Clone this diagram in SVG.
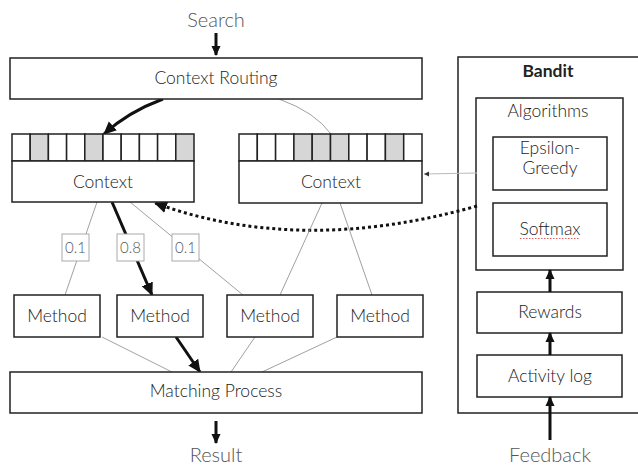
<svg xmlns="http://www.w3.org/2000/svg" width="638" height="466" viewBox="0 0 638 466">
<style>
  .box{fill:#fff;stroke:#222;stroke-width:1.5}
  .cell{fill:#fff;stroke:#222;stroke-width:1.5}
  .sh{fill:#d6d6d6;stroke:#222;stroke-width:1.5}
  .lbl{fill:#fff;stroke:#aaa;stroke-width:1}
  text{font-family:Lato,"Open Sans","DejaVu Sans",sans-serif;fill:#222;text-anchor:middle;font-weight:300}
  .t{font-size:17.5px}
  .io{font-size:20px;fill:#555}
  .p{font-size:15px;fill:#555}
  .thin{fill:none;stroke:#888;stroke-width:0.8}
  .thick{fill:none;stroke:#111;stroke-width:3}
</style>
<defs>
  <marker id="ah" markerUnits="userSpaceOnUse" markerWidth="14" markerHeight="14" refX="12" refY="7" orient="auto">
    <path d="M0,1 L13,7 L0,13 Z" fill="#111"/>
  </marker>
  <marker id="ahs" markerUnits="userSpaceOnUse" markerWidth="10" markerHeight="10" refX="9" refY="5" orient="auto">
    <path d="M0,0.5 L10,5 L0,9.5 Z" fill="#111"/>
  </marker>
  <marker id="ahg" markerUnits="userSpaceOnUse" markerWidth="6" markerHeight="6" refX="5" refY="3" orient="auto">
    <path d="M0,0.5 L5,3 L0,5.5 Z" fill="#333"/>
  </marker>
</defs>

<g id="bandit">
  <rect class="box" x="458" y="57" width="190" height="356"/>
  <text x="548" y="77" class="t" style="font-weight:bold">Bandit</text>
</g>
<g id="algorithms">
  <rect class="box" x="476" y="98" width="147" height="172"/>
  <text x="548" y="117" class="t">Algorithms</text>
</g>
<g id="epsilon-greedy">
  <rect class="box" x="493" y="137" width="114" height="53"/>
  <text x="550" y="154" class="t">Epsilon-</text>
  <text x="550" y="174" class="t">Greedy</text>
</g>
<g id="softmax">
  <rect class="box" x="493" y="203" width="114" height="53"/>
  <text x="550" y="235" class="t">Softmax</text>
  <path d="M520,238.5 L580,238.5" stroke="#e06060" stroke-width="1" stroke-dasharray="1.5,1.5" fill="none"/>
</g>
<g id="rewards">
  <rect class="box" x="477" y="292" width="145" height="41"/>
  <text x="550" y="318" class="t">Rewards</text>
</g>
<g id="activity-log">
  <rect class="box" x="477" y="355" width="145" height="42"/>
  <text x="550" y="382" class="t">Activity log</text>
</g>

<g id="search"><text x="216" y="27" class="io">Search</text></g>
<g id="result"><text x="216" y="462" class="io">Result</text></g>
<g id="feedback"><text x="550" y="462" class="io">Feedback</text></g>

<g id="connectors">
  <line class="thick" x1="216" y1="33" x2="216" y2="55" stroke-width="2.5" marker-end="url(#ahs)"/>
  <line class="thick" x1="216" y1="421" x2="216" y2="443" stroke-width="2.5" marker-end="url(#ahs)"/>
  <line class="thick" x1="550" y1="440" x2="550" y2="397" stroke-width="2.5" marker-end="url(#ahs)"/>
  <line class="thick" x1="550" y1="355" x2="550" y2="333" stroke-width="2.5" marker-end="url(#ahs)"/>
  <line class="thick" x1="550" y1="292" x2="550" y2="270" stroke-width="2.5" marker-end="url(#ahs)"/>
  <path class="thick" d="M163,99 Q128,112 104,134" marker-end="url(#ah)"/>
  <path class="thin" d="M279,99 Q315,112 331,134"/>
  <line x1="477" y1="173" x2="424" y2="174" stroke="#bbb" stroke-width="1" marker-end="url(#ahg)"/>
  <path d="M477,206 Q300,256 155,203" fill="none" stroke="#111" stroke-width="3" stroke-dasharray="3,3" marker-end="url(#ah)"/>
  <line class="thin" x1="97" y1="202" x2="65" y2="295"/>
  <line class="thick" x1="112" y1="202" x2="152" y2="295" marker-end="url(#ah)"/>
  <line class="thin" x1="130" y1="202" x2="243" y2="295"/>
  <line class="thin" x1="322" y1="203" x2="280" y2="295"/>
  <line class="thin" x1="340" y1="203" x2="372" y2="295"/>
  <line class="thin" x1="102" y1="337" x2="172" y2="372"/>
  <line class="thick" x1="176" y1="337" x2="200" y2="372" marker-end="url(#ah)"/>
  <line class="thin" x1="255" y1="337" x2="231" y2="372"/>
  <line class="thin" x1="337" y1="337" x2="262" y2="372"/>
</g>

<g id="context-routing">
  <rect class="box" x="10" y="58" width="412" height="41"/>
  <text x="216" y="84" class="t">Context Routing</text>
</g>

<g id="context-left">
  <rect class="cell" x="12" y="134" width="18.2" height="27"/>
  <rect class="sh" x="30.2" y="134" width="18.2" height="27"/>
  <rect class="cell" x="48.4" y="134" width="18.2" height="27"/>
  <rect class="cell" x="66.6" y="134" width="18.2" height="27"/>
  <rect class="sh" x="84.8" y="134" width="18.2" height="27"/>
  <rect class="cell" x="103" y="134" width="18.2" height="27"/>
  <rect class="cell" x="121.2" y="134" width="18.2" height="27"/>
  <rect class="cell" x="139.4" y="134" width="18.2" height="27"/>
  <rect class="cell" x="157.6" y="134" width="18.2" height="27"/>
  <rect class="sh" x="175.8" y="134" width="18.2" height="27"/>
  <rect class="box" x="12" y="161" width="182" height="41"/>
  <text x="103" y="188" class="t">Context</text>
</g>

<g id="context-right">
  <rect class="cell" x="239" y="134" width="18.3" height="27"/>
  <rect class="cell" x="257.3" y="134" width="18.3" height="27"/>
  <rect class="cell" x="275.6" y="134" width="18.3" height="27"/>
  <rect class="sh" x="293.9" y="134" width="18.3" height="27"/>
  <rect class="sh" x="312.2" y="134" width="18.3" height="27"/>
  <rect class="sh" x="330.5" y="134" width="18.3" height="27"/>
  <rect class="cell" x="348.8" y="134" width="18.3" height="27"/>
  <rect class="cell" x="367.1" y="134" width="18.3" height="27"/>
  <rect class="sh" x="385.4" y="134" width="18.3" height="27"/>
  <rect class="cell" x="403.7" y="134" width="18.3" height="27"/>
  <rect class="box" x="239" y="161" width="183" height="42"/>
  <text x="331" y="188" class="t">Context</text>
</g>

<g id="label-1">
  <rect class="lbl" x="62" y="234" width="27" height="27"/>
  <text x="75.5" y="253" class="p">0.1</text>
</g>
<g id="label-2">
  <rect class="lbl" x="117" y="234" width="27" height="27"/>
  <text x="130.5" y="253" class="p">0.8</text>
</g>
<g id="label-3">
  <rect class="lbl" x="172" y="234" width="27" height="27"/>
  <text x="185.5" y="253" class="p">0.1</text>
</g>

<g id="method-1">
  <rect class="box" x="14" y="295" width="86" height="42"/>
  <text x="57" y="322" class="t">Method</text>
</g>
<g id="method-2">
  <rect class="box" x="117" y="295" width="86" height="42"/>
  <text x="160" y="322" class="t">Method</text>
</g>
<g id="method-3">
  <rect class="box" x="227" y="295" width="86" height="42"/>
  <text x="270" y="322" class="t">Method</text>
</g>
<g id="method-4">
  <rect class="box" x="337" y="295" width="86" height="42"/>
  <text x="380" y="322" class="t">Method</text>
</g>

<g id="matching-process">
  <rect class="box" x="10" y="372" width="412" height="41"/>
  <text x="216" y="397" class="t">Matching Process</text>
</g>
</svg>
